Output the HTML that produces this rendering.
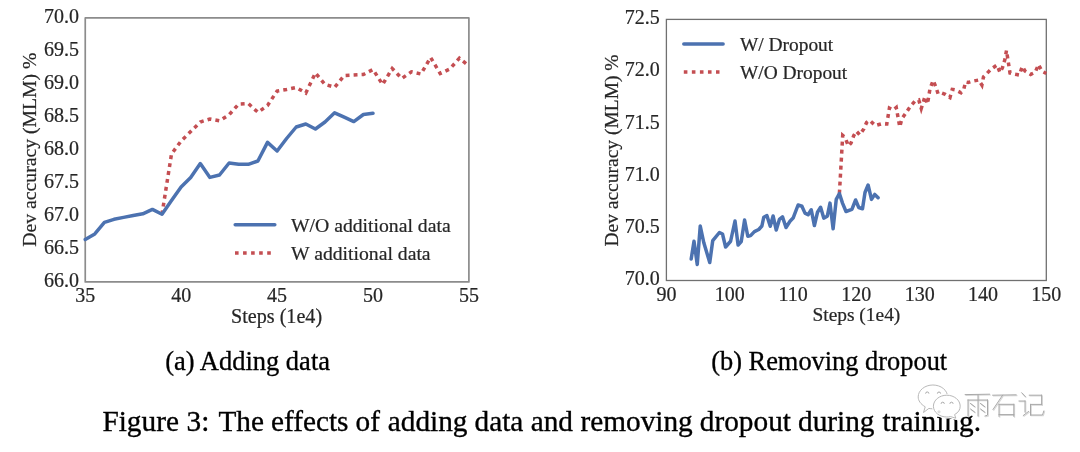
<!DOCTYPE html>
<html><head><meta charset="utf-8"><style>
html,body{margin:0;padding:0;background:#fff;width:1080px;height:452px;overflow:hidden}
svg{display:block;will-change:transform}
text{font-family:"Liberation Serif",serif}
</style></head><body>
<svg width="1080" height="452" viewBox="0 0 1080 452">
<rect x="85.25" y="17.9" width="383.65" height="264.0" fill="none" stroke="#8c8c8c" stroke-width="1.7" stroke-linejoin="round"/>
<text x="79" y="22.90" font-size="20" text-anchor="end" fill="#262626" stroke="#262626" stroke-width="0.22" >70.0</text>
<text x="79" y="55.90" font-size="20" text-anchor="end" fill="#262626" stroke="#262626" stroke-width="0.22" >69.5</text>
<text x="79" y="88.90" font-size="20" text-anchor="end" fill="#262626" stroke="#262626" stroke-width="0.22" >69.0</text>
<text x="79" y="121.90" font-size="20" text-anchor="end" fill="#262626" stroke="#262626" stroke-width="0.22" >68.5</text>
<text x="79" y="154.90" font-size="20" text-anchor="end" fill="#262626" stroke="#262626" stroke-width="0.22" >68.0</text>
<text x="79" y="187.90" font-size="20" text-anchor="end" fill="#262626" stroke="#262626" stroke-width="0.22" >67.5</text>
<text x="79" y="220.90" font-size="20" text-anchor="end" fill="#262626" stroke="#262626" stroke-width="0.22" >67.0</text>
<text x="79" y="253.90" font-size="20" text-anchor="end" fill="#262626" stroke="#262626" stroke-width="0.22" >66.5</text>
<text x="79" y="286.90" font-size="20" text-anchor="end" fill="#262626" stroke="#262626" stroke-width="0.22" >66.0</text>
<text x="85.25" y="301.8" font-size="20" text-anchor="middle" fill="#262626" stroke="#262626" stroke-width="0.22" >35</text>
<text x="181.16" y="301.8" font-size="20" text-anchor="middle" fill="#262626" stroke="#262626" stroke-width="0.22" >40</text>
<text x="277.07" y="301.8" font-size="20" text-anchor="middle" fill="#262626" stroke="#262626" stroke-width="0.22" >45</text>
<text x="372.99" y="301.8" font-size="20" text-anchor="middle" fill="#262626" stroke="#262626" stroke-width="0.22" >50</text>
<text x="468.90" y="301.8" font-size="20" text-anchor="middle" fill="#262626" stroke="#262626" stroke-width="0.22" >55</text>
<text x="276.6" y="322.5" font-size="20.1" text-anchor="middle" fill="#262626" stroke="#262626" stroke-width="0.22" >Steps (1e4)</text>
<text transform="translate(36.4,149.6) rotate(-90)" x="0" y="0" font-size="19.7" text-anchor="middle" fill="#262626" stroke="#262626" stroke-width="0.22">Dev accuracy (MLM) %</text>
<polyline points="162.00,214.20 171.50,154.00 181.10,141.00 190.70,131.50 200.30,122.00 209.90,119.00 219.50,120.80 229.10,114.80 238.70,104.00 248.30,103.50 257.90,112.30 267.50,105.50 277.10,91.00 286.60,89.50 296.20,87.50 305.80,93.00 315.40,73.00 325.00,84.40 334.60,87.30 344.20,75.50 353.80,75.00 363.40,74.50 373.00,69.50 382.60,84.50 392.20,68.50 401.80,78.50 411.40,71.80 421.00,74.00 430.60,57.50 440.20,73.50 449.80,69.00 459.40,58.20 468.90,66.00" fill="none" stroke="#C44E52" stroke-width="3.5" stroke-dasharray="3.9 4.1" stroke-dashoffset="0.25"/>
<polyline points="85.25,239.50 94.80,233.90 104.40,222.40 114.00,219.30 123.60,217.40 133.20,215.50 142.80,213.80 152.40,209.40 162.00,214.20 171.50,200.60 181.10,187.00 190.70,177.50 200.30,163.60 209.90,177.40 219.50,175.00 229.10,163.00 238.70,164.30 248.30,164.30 257.90,161.00 267.50,142.40 277.10,151.00 286.60,138.50 296.20,127.00 305.80,124.00 315.40,129.00 325.00,122.00 334.60,112.80 344.20,117.20 353.80,121.60 363.40,114.50 373.00,113.30" fill="none" stroke="#4C72B0" stroke-width="3.5" stroke-linejoin="round" stroke-linecap="round"/>
<line x1="235.2" y1="224.8" x2="274.8" y2="224.8" stroke="#4C72B0" stroke-width="3.5" stroke-linecap="round"/>
<line x1="235" y1="252.9" x2="271" y2="252.9" stroke="#C44E52" stroke-width="3.5" stroke-dasharray="3.6 4.45"/>
<text x="291" y="231.9" font-size="19.7" text-anchor="start" fill="#262626" stroke="#262626" stroke-width="0.22" >W/O additional data</text>
<text x="291" y="260.2" font-size="19.7" text-anchor="start" fill="#262626" stroke="#262626" stroke-width="0.22" >W additional data</text>
<rect x="666.4" y="19.4" width="379.9" height="261.1" fill="none" stroke="#707070" stroke-width="1.3"/>
<text x="659.8" y="24.20" font-size="20" text-anchor="end" fill="#262626" stroke="#262626" stroke-width="0.22" >72.5</text>
<text x="659.8" y="76.42" font-size="20" text-anchor="end" fill="#262626" stroke="#262626" stroke-width="0.22" >72.0</text>
<text x="659.8" y="128.64" font-size="20" text-anchor="end" fill="#262626" stroke="#262626" stroke-width="0.22" >71.5</text>
<text x="659.8" y="180.86" font-size="20" text-anchor="end" fill="#262626" stroke="#262626" stroke-width="0.22" >71.0</text>
<text x="659.8" y="233.08" font-size="20" text-anchor="end" fill="#262626" stroke="#262626" stroke-width="0.22" >70.5</text>
<text x="659.8" y="285.30" font-size="20" text-anchor="end" fill="#262626" stroke="#262626" stroke-width="0.22" >70.0</text>
<text x="666.40" y="300.8" font-size="20" text-anchor="middle" fill="#262626" stroke="#262626" stroke-width="0.22" >90</text>
<text x="729.72" y="300.8" font-size="20" text-anchor="middle" fill="#262626" stroke="#262626" stroke-width="0.22" >100</text>
<text x="793.03" y="300.8" font-size="20" text-anchor="middle" fill="#262626" stroke="#262626" stroke-width="0.22" >110</text>
<text x="856.35" y="300.8" font-size="20" text-anchor="middle" fill="#262626" stroke="#262626" stroke-width="0.22" >120</text>
<text x="919.67" y="300.8" font-size="20" text-anchor="middle" fill="#262626" stroke="#262626" stroke-width="0.22" >130</text>
<text x="982.98" y="300.8" font-size="20" text-anchor="middle" fill="#262626" stroke="#262626" stroke-width="0.22" >140</text>
<text x="1046.30" y="300.8" font-size="20" text-anchor="middle" fill="#262626" stroke="#262626" stroke-width="0.22" >150</text>
<text x="856.4" y="321.3" font-size="19.4" text-anchor="middle" fill="#262626" stroke="#262626" stroke-width="0.22" >Steps (1e4)</text>
<text transform="translate(618.3,150.5) rotate(-90)" x="0" y="0" font-size="19.5" text-anchor="middle" fill="#262626" stroke="#262626" stroke-width="0.22">Dev accuracy (MLM) %</text>
<polyline points="839.40,193.50 842.70,135.50 844.90,137.40 848.50,146.00 851.00,143.10 853.75,135.60 856.40,131.20 859.80,134.90 863.80,129.00 866.60,122.50 869.70,120.30 875.30,125.60 881.80,123.70 886.80,124.00 889.40,108.10 893.10,110.00 896.25,107.50 899.75,126.90 901.90,118.75 906.25,112.50 910.25,106.50 914.75,101.25 918.75,100.00 921.25,108.50 925.00,96.50 927.50,104.00 930.00,88.75 933.10,80.50 935.60,86.25 938.10,93.75 941.90,93.10 945.25,94.40 950.00,97.50 952.25,89.40 955.60,90.00 961.00,92.75 963.75,89.40 965.60,81.90 968.10,82.50 972.50,81.25 978.75,80.00 981.90,85.00 983.50,76.90 986.90,73.50 991.25,69.00 997.00,65.00 1000.00,72.50 1002.50,67.50 1004.75,60.00 1006.50,50.50 1008.75,65.00 1010.00,73.10 1012.50,73.75 1019.40,75.00 1022.25,66.50 1025.00,71.00 1030.60,74.40 1035.25,72.25 1038.50,64.50 1041.90,71.25 1046.30,73.50" fill="none" stroke="#C44E52" stroke-width="3.5" stroke-dasharray="3.9 4.1"/>
<polyline points="691.20,259.00 694.00,241.25 697.25,264.40 700.25,226.00 703.75,242.50 709.75,262.50 712.75,240.60 719.40,232.50 722.50,234.00 725.60,247.00 730.60,241.25 735.00,221.00 738.10,245.00 741.25,241.50 744.60,220.00 747.80,236.25 750.60,235.60 754.40,231.60 758.75,229.50 761.90,226.00 763.75,217.25 766.90,215.60 770.25,226.25 773.10,216.00 776.25,230.00 779.40,219.40 782.50,216.90 786.00,227.50 790.00,221.25 793.10,218.10 798.10,205.00 801.90,206.25 805.00,213.10 808.10,214.75 811.25,209.75 814.40,225.60 817.50,212.25 820.60,207.25 823.75,218.10 827.25,216.25 830.00,203.10 833.10,228.75 836.25,199.40 839.40,193.50 842.50,203.10 846.00,211.50 851.90,209.40 855.60,200.00 858.75,207.50 862.50,208.75 865.00,192.50 868.10,185.00 871.50,199.40 874.75,194.40 878.10,197.75" fill="none" stroke="#4C72B0" stroke-width="3.5" stroke-linejoin="round" stroke-linecap="round"/>
<line x1="683.8" y1="44" x2="723.1" y2="44" stroke="#4C72B0" stroke-width="3.5" stroke-linecap="round"/>
<line x1="683.8" y1="71.9" x2="719.5" y2="71.9" stroke="#C44E52" stroke-width="3.5" stroke-dasharray="3.6 4.45"/>
<text x="740" y="50.6" font-size="19.4" text-anchor="start" fill="#262626" stroke="#262626" stroke-width="0.22" >W/ Dropout</text>
<text x="740" y="78.75" font-size="19.4" text-anchor="start" fill="#262626" stroke="#262626" stroke-width="0.22" >W/O Dropout</text>
<text x="247.6" y="369.9" font-size="26.5" text-anchor="middle" fill="#000" stroke="#000" stroke-width="0.3" >(a) Adding data</text>
<text x="829.2" y="369.6" font-size="26.4" text-anchor="middle" fill="#000" stroke="#000" stroke-width="0.3" >(b) Removing dropout</text>
<text y="430.6" font-size="29.3" fill="#000" stroke="#000" stroke-width="0.35"><tspan x="102.43">Figure</tspan><tspan x="186.52">3:</tspan><tspan x="218.39">The</tspan><tspan x="270.93">effects</tspan><tspan x="355.55">of</tspan><tspan x="387.74">adding</tspan><tspan x="474.51">data</tspan><tspan x="530.64">and</tspan><tspan x="580.48">removing</tspan><tspan x="699.81">dropout</tspan><tspan x="798.01">during</tspan><tspan x="882.58">training.</tspan></text>
<g fill="#fff" stroke="#fff" stroke-width="3.2" stroke-linejoin="round"><path d="M923.5,412.5 L925.2,406.8 C920.5,404 918.2,400.6 918.2,396.9 C918.2,390.3 924.8,385 932.9,385 C941,385 947.6,390.3 947.6,396.9 C947.6,403.5 941,408.8 932.9,408.8 C931.5,408.8 930.2,408.7 928.9,408.4 Z"/><path d="M955.8,418.2 L954.6,414.6 C958.3,412.6 960.2,409.6 960.2,406.2 C960.2,400.2 954.3,395.2 946.8,395.2 C939.4,395.2 933.4,400.2 933.4,406.2 C933.4,412.2 939.4,417 946.8,417 C948.1,417 949.3,416.9 950.5,416.6 Z"/></g>
<g fill="#fff" stroke="#b4b4b4" stroke-width="0.95">
<path d="M923.5,412.5 L925.2,406.8 C920.5,404 918.2,400.6 918.2,396.9 C918.2,390.3 924.8,385 932.9,385 C941,385 947.6,390.3 947.6,396.9 C947.6,403.5 941,408.8 932.9,408.8 C931.5,408.8 930.2,408.7 928.9,408.4 Z"/>
<path d="M925.6,393.6 A1.6,1.6 0 0 1 928.9,393.6 M937.4,393.6 A1.6,1.6 0 0 1 940.6,393.6" fill="none" stroke="#a8a8a8" stroke-width="1"/>
<path d="M955.8,418.2 L954.6,414.6 C958.3,412.6 960.2,409.6 960.2,406.2 C960.2,400.2 954.3,395.2 946.8,395.2 C939.4,395.2 933.4,400.2 933.4,406.2 C933.4,412.2 939.4,417 946.8,417 C948.1,417 949.3,416.9 950.5,416.6 Z" fill="#fff" stroke="#fff" stroke-width="2.6"/>
<path d="M955.8,418.2 L954.6,414.6 C958.3,412.6 960.2,409.6 960.2,406.2 C960.2,400.2 954.3,395.2 946.8,395.2 C939.4,395.2 933.4,400.2 933.4,406.2 C933.4,412.2 939.4,417 946.8,417 C948.1,417 949.3,416.9 950.5,416.6 Z"/>
<path d="M941.1,403.8 A1.6,1.6 0 0 1 944.3,403.8 M949.9,403.8 A1.6,1.6 0 0 1 953.1,403.8" fill="none" stroke="#a8a8a8" stroke-width="1"/>
<circle cx="939" cy="411.8" r="1.6" fill="#dedede" stroke="none"/>
</g>
<path d="M965.2,394.6 L989.5,394.2 M978,394.8 L978,415.9 M968,400 L987.5,400 M968,400 L968,416 M987.5,400 L987.5,415.2 L985,416 M970.5,403.5 L974.5,406.5 M980.5,403.5 L984.5,406.5 M970.5,409 L974.5,412 M980.5,409 L984.5,412 M992.7,395.2 L1016.1,394.8 M1002.6,395.2 L993,409.5 M999,404.3 L999,416.3 M999,404.3 L1013.8,404.3 M1013.8,404.3 L1013.8,416.3 M999,414.6 L1013.8,414.6 M1021.7,392.8 L1025.2,396.5 M1019,401 L1025,401 M1025,401 L1025,412 M1023.3,415.5 L1028.5,411.5 M1029.3,395.2 L1041.6,395.2 M1041.6,395.2 L1041.6,404.6 M1030.5,404.4 L1041.6,404.4 M1030.5,404.4 L1030.5,415 M1030.5,415 L1042.5,415 L1043.8,411" fill="none" stroke="#d8d8d8" stroke-width="1.1" stroke-linecap="square" transform="translate(0.8,0.8)"/>
<path d="M965.2,394.6 L989.5,394.2 M978,394.8 L978,415.9 M968,400 L987.5,400 M968,400 L968,416 M987.5,400 L987.5,415.2 L985,416 M970.5,403.5 L974.5,406.5 M980.5,403.5 L984.5,406.5 M970.5,409 L974.5,412 M980.5,409 L984.5,412 M992.7,395.2 L1016.1,394.8 M1002.6,395.2 L993,409.5 M999,404.3 L999,416.3 M999,404.3 L1013.8,404.3 M1013.8,404.3 L1013.8,416.3 M999,414.6 L1013.8,414.6 M1021.7,392.8 L1025.2,396.5 M1019,401 L1025,401 M1025,401 L1025,412 M1023.3,415.5 L1028.5,411.5 M1029.3,395.2 L1041.6,395.2 M1041.6,395.2 L1041.6,404.6 M1030.5,404.4 L1041.6,404.4 M1030.5,404.4 L1030.5,415 M1030.5,415 L1042.5,415 L1043.8,411" fill="none" stroke="#a8a8a8" stroke-width="1.0" stroke-linecap="square"/>
</svg>
</body></html>
